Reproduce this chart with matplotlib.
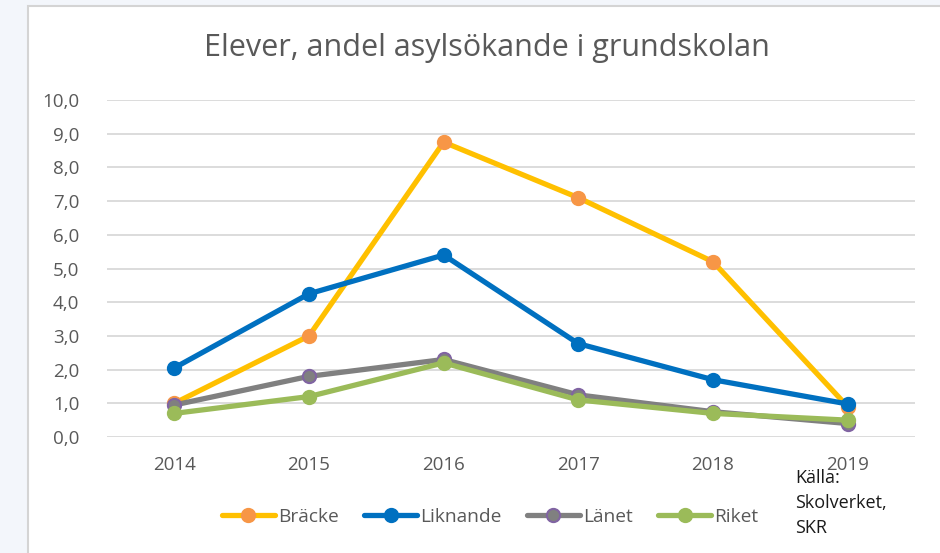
import matplotlib
matplotlib.use("Agg")
import matplotlib.pyplot as plt
from matplotlib.patches import Rectangle
from matplotlib.ticker import FuncFormatter

years = ["2014", "2015", "2016", "2017", "2018", "2019"]
bracke = [1.0, 3.0, 8.75, 7.1, 5.2, 0.9]
liknande = [2.05, 4.25, 5.4, 2.77, 1.7, 0.98]
lanet = [0.95, 1.8, 2.3, 1.25, 0.75, 0.4]
riket = [0.7, 1.2, 2.2, 1.1, 0.7, 0.5]

series = [
    ("Bräcke", bracke, "#FFC000", "#F79646", "#F79646"),
    ("Liknande", liknande, "#0070C0", "#0070C0", "#0070C0"),
    ("Länet", lanet, "#808080", "#808080", "#8064A2"),
    ("Riket", riket, "#9BBB59", "#9BBB59", "#9BBB59"),
]

plt.rcParams['font.family'] = ['Open Sans', 'DejaVu Sans']
txt = "#595959"

fig = plt.figure(figsize=(9.4, 5.53), dpi=100, facecolor="#F3F6FB")
fig.patches.append(Rectangle((28 / 940, -0.01), 1.0, 1 - 6 / 553 + 0.01,
                             transform=fig.transFigure, facecolor="white",
                             edgecolor="#D4D4D4", linewidth=1.5, zorder=-10))

ax = fig.add_axes([107 / 940, 1 - 437 / 553, 808 / 940, 337 / 553])
ax.set_zorder(2)
ax.set_facecolor("none")
x = list(range(len(years)))
for name, vals, lc, mfc, mec in series:
    ax.plot(x, vals, color=lc, linewidth=3.8, marker="o", markersize=9.5,
            markerfacecolor=mfc, markeredgecolor=mec, markeredgewidth=1.5,
            label=name, solid_capstyle="round", zorder=3)

ax.set_xlim(-0.5, 5.5)
ax.set_ylim(0, 10)
ax.set_yticks([i for i in range(11)])
ax.yaxis.set_major_formatter(FuncFormatter(lambda v, p: f"{v:.1f}".replace(".", ",")))
ax.set_xticks(x)
ax.set_xticklabels(years)
ax.grid(axis="y", color="#D9D9D9", linewidth=1.3, zorder=0)
for s in ax.spines.values():
    s.set_visible(False)
ax.tick_params(axis="both", length=0, labelsize=13.5, colors=txt)
ax.tick_params(axis="y", pad=20)
ax.tick_params(axis="x", pad=14)

fig.text(487 / 940, 1 - 48 / 553, "Elever, andel asylsökande i grundskolan",
         ha="center", va="center", fontsize=22, color=txt, zorder=5)

leg = ax.legend(loc="center", bbox_to_anchor=(490 / 940, 1 - 517 / 553),
                bbox_transform=fig.transFigure, ncol=4, frameon=False,
                fontsize=13.8, handlelength=2.8, handletextpad=0.15,
                columnspacing=1.3, labelcolor=txt)

for i, line in enumerate(["Källa:", "Skolverket,", "SKR"]):
    fig.text(795 / 940, 1 - (478 + 25 * i) / 553, line, ha="left", va="center",
             fontsize=13, color="#1a1a1a", zorder=5)

fig.savefig("out.png", dpi=100, facecolor=fig.get_facecolor())
